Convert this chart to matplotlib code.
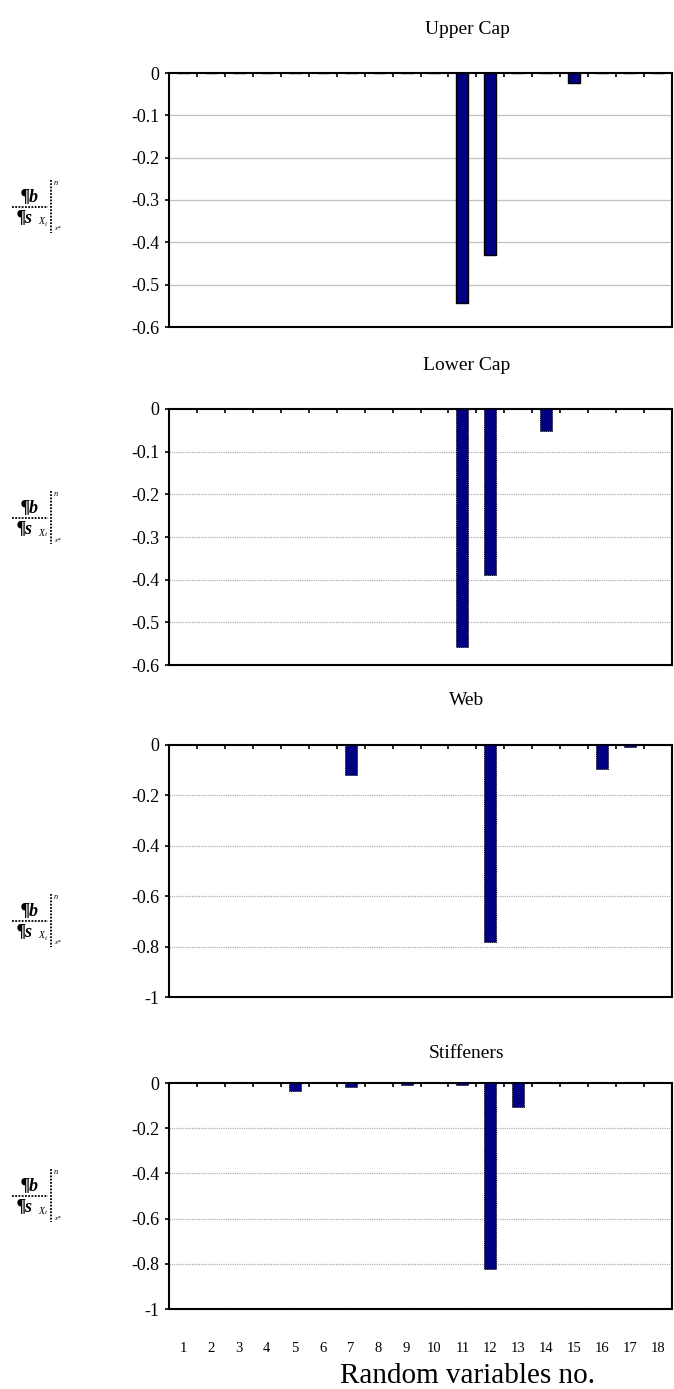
import matplotlib
matplotlib.use("Agg")
import matplotlib.pyplot as plt
from matplotlib.lines import Line2D
import numpy as np

plt.rcParams['font.family'] = ['Liberation Serif', 'DejaVu Serif']

# random variable numbers 1..18
variables = list(range(1, 19))

titles = ['Upper Cap', 'Lower Cap', 'Web', 'Stiffeners']

upper_cap = [0, 0, 0, 0, 0, 0, 0, 0, 0, 0, -0.543, -0.43, 0, 0, -0.024, 0, 0, 0]
lower_cap = [0, 0, 0, 0, 0, 0, 0, 0, 0, 0, -0.557, -0.389, 0, -0.052, 0, 0, 0, 0]
web = [0, 0, 0, 0, 0, 0, -0.118, 0, 0, 0, 0, -0.78, 0, 0, 0, -0.095, -0.008, 0]
stiffeners = [0, 0, 0, 0, -0.035, 0, -0.017, 0, -0.009, 0, -0.009, -0.825, -0.105, 0, 0, 0, 0, 0]

y_ticks_cap = [0, -0.1, -0.2, -0.3, -0.4, -0.5, -0.6]
y_ticks_web = [0, -0.2, -0.4, -0.6, -0.8, -1]

W, H = 674, 1389
fig = plt.figure(figsize=(W / 100, H / 100), dpi=100)


def fx(px):
    return px / W


def fy(py):
    return 1 - py / H


# panel boxes in pixels: (top, bottom), title y, label line y, dotted style
panels = [
    (upper_cap, y_ticks_cap, 73, 327, 30, 207, False),
    (lower_cap, y_ticks_cap, 409, 665, 365, 518, True),
    (web, y_ticks_web, 745, 997, 700, 921, True),
    (stiffeners, y_ticks_web, 1083, 1309, 1054, 1196, True),
]
left, right = 169, 672
DOT = (0, (1, 0.8))


def draw_ylabel(yc):
    # d(beta)/d(sigma_Xi) evaluated at x*, drawn like the symbol-font original
    fig.text(fx(30), fy(yc - 10), '¶b', fontsize=13, fontweight='bold',
             fontstyle='italic', ha='center', va='center')
    fig.text(fx(25), fy(yc + 11), '¶s', fontsize=13, fontweight='bold',
             fontstyle='italic', ha='center', va='center')
    fig.text(fx(41), fy(yc + 15), 'X', fontsize=7, fontstyle='italic',
             ha='center', va='center')
    fig.text(fx(46), fy(yc + 17), 'i', fontsize=5, fontstyle='italic',
             ha='center', va='center')
    fig.add_artist(Line2D([fx(12), fx(48)], [fy(yc), fy(yc)], color='black',
                          lw=1.3, linestyle=DOT))
    fig.add_artist(Line2D([fx(51), fx(51)], [fy(yc - 27), fy(yc + 26)],
                          color='black', lw=1.3, linestyle=DOT))
    fig.text(fx(54), fy(yc - 24), 'n', fontsize=6, fontstyle='italic',
             ha='left', va='center')
    fig.text(fx(54), fy(yc + 22), 'x*', fontsize=5, fontstyle='italic',
             ha='left', va='center')


for i, (vals, yt, top, bottom, ty, ly, dotted) in enumerate(panels):
    ax = fig.add_axes([fx(left), fy(bottom), fx(right) - fx(left), (bottom - top) / H])
    bars = ax.bar(variables, vals, width=0.43, color='#000080', edgecolor='black',
                  linewidth=0.6 if dotted else 1.0, zorder=3)
    if dotted:
        for b in bars:
            b.set_linestyle((0, (1.5, 1)))
    ax.set_xlim(0.5, 18.5)
    ax.set_ylim(yt[-1], 0)
    ax.set_yticks(yt)
    ax.set_yticklabels([f'{v:g}' for v in yt])
    for v in yt[1:-1]:
        ax.axhline(v, color='#b0b0b0' if dotted else '#c0c0c0', lw=0.9,
                   linestyle=DOT if dotted else '-', zorder=1)
    for s in ax.spines.values():
        s.set_linewidth(1.5)
    if i == 3:
        ax.spines['bottom'].set_linestyle(DOT)
    ax.tick_params(axis='y', direction='out', length=3, width=1.2, labelsize=13, pad=4)
    ax.set_xticks(np.arange(1.5, 18.5, 1.0), minor=True)
    ax.tick_params(axis='x', which='minor', top=True, bottom=False,
                   direction='in', length=3, width=1.2)
    if i == 3:
        ax.set_xticks(variables)
        ax.tick_params(axis='x', which='major', top=False, bottom=True,
                       length=0, pad=24, labelsize=10.5)
    else:
        ax.set_xticks([])
    fig.text(fx(467), fy(ty), titles[i], fontsize=14, ha='center', va='center')
    draw_ylabel(ly)

fig.text(fx(468), fy(1376), 'Random variables no.', fontsize=21,
         ha='center', va='center')

fig.savefig('out.png', dpi=100)
